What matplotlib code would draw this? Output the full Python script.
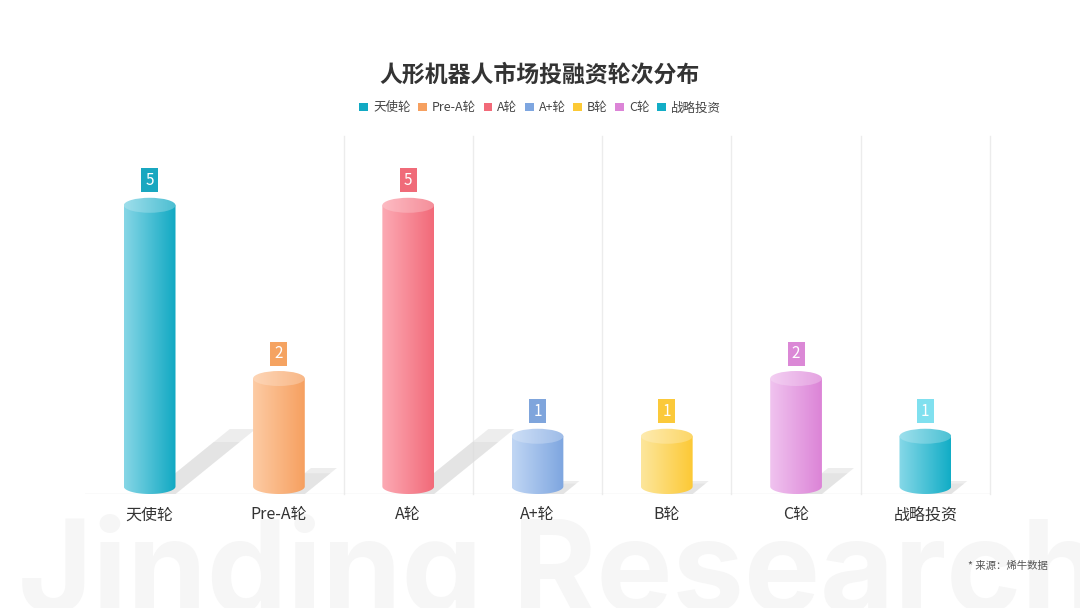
import numpy as np
import matplotlib.pyplot as plt
from matplotlib.path import Path
from matplotlib.patches import PathPatch, Ellipse, Polygon, Rectangle, Patch
from matplotlib.colors import to_rgb

plt.rcParams['font.family'] = ['Noto Sans CJK SC', 'DejaVu Sans']

# data
categories = ['天使轮', 'Pre-A轮', 'A轮', 'A+轮', 'B轮', 'C轮', '战略投资']
values = [5, 2, 5, 1, 1, 2, 1]

# colours: light edge, dark edge of each cylinder, label box
bar_light = ['#86d6e6', '#fdcba4', '#fcaab4', '#c0d6f4', '#fde69c', '#f0c3ef', '#86d8e8']
bar_dark = ['#11a9c3', '#f6a060', '#f26a79', '#7ea6e0', '#fcc935', '#dc84d7', '#12adc6']
label_colors = ['#19a7c0', '#f5a361', '#f06b79', '#7fa5dc', '#fbc93a', '#db88d6', '#80e0ef']

title = '人形机器人市场投融资轮次分布'
source = '* 来源：烯牛数据'
watermark = 'Jinding Research'

fig = plt.figure(figsize=(10.8, 6.08), dpi=100)
fig.patch.set_facecolor('white')

# watermark behind everything
fig.text(18 / 1080, 1 - 514 / 608, watermark, fontsize=92, fontweight='bold',
         family='Inter', color='#f6f6f6', ha='left', va='top', zorder=-5)

ax = fig.add_axes([85 / 1080, 1 - 494 / 608, 905 / 1080, 358 / 608])
ax.set_facecolor('none')
ax.set_xlim(-0.5, 6.5)
ax.set_ylim(0, 6.2)
for s in ax.spines.values():
    s.set_visible(False)
ax.set_yticks([])
ax.set_xticks(range(len(categories)))
ax.set_xticklabels(categories, fontsize=11.5, color='#333333')
ax.tick_params(axis='x', length=0, pad=9)

# grid and baseline
for b in np.arange(1.5, 7, 1.0):
    ax.plot([b, b], [0, 6.2], color='#ececec', lw=1, zorder=1, clip_on=False)
ax.plot([-0.5, 6.5], [0, 0], color='#e6e6e6', lw=1, zorder=1)

w = 0.40       # cylinder width (data units)
eh = 0.26      # ellipse height
sx, sy = 0.124, 0.225   # shadow offset per unit value


def gradient(c1, c2, n=64):
    a, b = np.array(to_rgb(c1)), np.array(to_rgb(c2))
    t = np.linspace(0, 1, n)[:, None]
    return (a + (b - a) * t)[None, :, :]


def lighten(c, f):
    a = np.array(to_rgb(c))
    return tuple(a + (1 - a) * f)


for i, v in enumerate(values):
    x = i
    # shadow, fading slightly toward its far end
    dx, dy = sx * v, sy * v
    for f, a in [(1.0, 0.5), (0.8, 0.5)]:
        shadow = Polygon([(x, 0), (x + w / 2, 0), (x + w / 2 + dx * f, dy * f), (x + dx * f, dy * f)],
                         closed=True, facecolor='#dcdcdc', alpha=a, edgecolor='none', zorder=2)
        ax.add_patch(shadow)

    # body with rounded bottom
    t = np.linspace(np.pi, 2 * np.pi, 40)
    arc = np.column_stack([x + w / 2 * np.cos(t), eh / 2 + eh / 2 * np.sin(t)])
    verts = np.vstack([[(x - w / 2, v)], arc, [(x + w / 2, v)], [(x - w / 2, v)]])
    codes = [Path.MOVETO] + [Path.LINETO] * (len(verts) - 2) + [Path.CLOSEPOLY]
    body = PathPatch(Path(verts, codes), facecolor='none', edgecolor='none',
                     transform=ax.transData)
    im = ax.imshow(gradient(bar_light[i], bar_dark[i]), extent=[x - w / 2, x + w / 2, 0, v],
                   aspect='auto', interpolation='bicubic', zorder=3)
    im.set_clip_path(body)

    # top ellipse
    top = Ellipse((x, v), w, eh, facecolor='none', edgecolor='none', transform=ax.transData)
    im2 = ax.imshow(gradient(lighten(bar_light[i], 0.2), lighten(bar_dark[i], 0.25)),
                    extent=[x - w / 2, x + w / 2, v - eh / 2, v + eh / 2],
                    aspect='auto', interpolation='bicubic', zorder=4)
    im2.set_clip_path(top)

    # value label box
    bw, bh = 0.131, 0.416
    cy = v + 0.43
    ax.add_patch(Rectangle((x - bw / 2, cy - bh / 2), bw, bh, facecolor=label_colors[i],
                           edgecolor='none', zorder=5, clip_on=False))
    ax.text(x, cy, str(v), ha='center', va='center', color='white', fontsize=11,
            zorder=6, clip_on=False)

ax.set_xlim(-0.5, 6.5)
ax.set_ylim(0, 6.2)

fig.text(0.5, 1 - 75 / 608, title, ha='center', va='center', fontsize=16.5,
         fontweight='bold', color='#333333')

handles = [Patch(facecolor=bar_dark[i], edgecolor='none') for i in range(len(categories))]
fig.legend(handles, categories, loc='center', bbox_to_anchor=(0.5, 1 - 108 / 608),
           ncol=len(categories), frameon=False, fontsize=9, labelcolor='#444444',
           handlelength=0.7, handleheight=0.7, handletextpad=0.4, columnspacing=0.6)

fig.text(1048 / 1080, 1 - 566 / 608, source, ha='right', va='center', fontsize=7.5,
         color='#555555')

fig.savefig('out.png', dpi=100)
